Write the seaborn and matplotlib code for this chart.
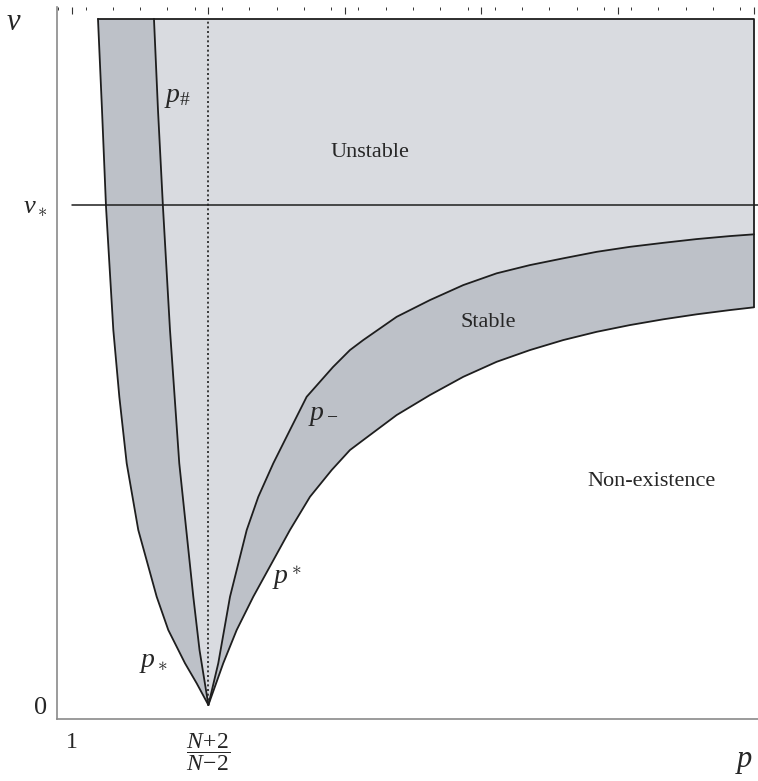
import numpy as np
import matplotlib
matplotlib.use('Agg')
import matplotlib.pyplot as plt
from matplotlib.ticker import FixedLocator, MultipleLocator
import seaborn as sns

# curves, (p, nu)
p_star_low_p = [3.0, 2.828, 2.657, 2.412, 2.242, 1.972, 1.802, 1.694, 1.606, 1.499, 1.44, 1.381]
p_star_low_nu = [0.0, 0.174, 0.334, 0.6, 0.866, 1.4, 1.934, 2.466, 3.0, 3.984, 4.76, 5.49]

p_sharp_p = [3.0, 2.87, 2.779, 2.573, 2.437, 2.334, 2.261, 2.202]
p_sharp_nu = [0.0, 0.44, 0.866, 1.934, 3.0, 3.984, 4.76, 5.49]

p_minus_p = [3.0, 3.145, 3.317, 3.562, 3.732, 3.952, 4.196, 4.441, 4.827, 5.076, 5.271, 5.761, 6.249,
             6.738, 7.227, 7.716, 8.204, 8.694, 9.182, 9.670, 10.160, 10.648, 11.0]
p_minus_nu = [0.0, 0.334, 0.866, 1.4, 1.666, 1.934, 2.2, 2.466, 2.704, 2.84, 2.92, 3.106, 3.24,
              3.36, 3.454, 3.52, 3.574, 3.626, 3.666, 3.698, 3.728, 3.752, 3.766]

p_up_p = [3.0, 3.218, 3.415, 3.658, 3.928, 4.196, 4.490, 4.808, 5.076, 5.271, 5.761, 6.249, 6.738,
          7.227, 7.716, 8.204, 8.694, 9.182, 9.670, 10.160, 10.648, 11.0]
p_up_nu = [0.0, 0.334, 0.6, 0.866, 1.134, 1.4, 1.666, 1.88, 2.04, 2.12, 2.32, 2.48, 2.626,
           2.746, 2.84, 2.92, 2.986, 3.04, 3.086, 3.126, 3.16, 3.182]

nu_top = 5.49
nu_crit = 4.0
p_crit = 3.0
p_max = 11.0

sns.set_style('white')
plt.rcParams['font.family'] = ['Liberation Serif', 'DejaVu Serif']
plt.rcParams['mathtext.fontset'] = 'custom'
plt.rcParams['mathtext.rm'] = 'Liberation Serif'
plt.rcParams['mathtext.it'] = 'Liberation Serif:italic'

fig = plt.figure(figsize=(7.58, 7.81), dpi=100)
ax = fig.add_axes([57/758, 62/781, 701/758, 712/781])

light = '#d9dbe0'
dark = '#bdc1c8'
edge = '#1e1e1e'

# light region: everything between p_* and p^*, capped at nu_top
poly_x = list(p_star_low_p) + [p_max, p_max] + list(p_up_p[::-1])
poly_y = list(p_star_low_nu) + [nu_top, p_up_nu[-1]] + list(p_up_nu[::-1])
ax.fill(poly_x, poly_y, color=light, lw=0)

# dark bands
ax.fill(list(p_star_low_p) + list(p_sharp_p[::-1]), list(p_star_low_nu) + list(p_sharp_nu[::-1]), color=dark, lw=0)
ax.fill(list(p_minus_p) + list(p_up_p[::-1]), list(p_minus_nu) + list(p_up_nu[::-1]), color=dark, lw=0)

for xs, ys in [(p_star_low_p, p_star_low_nu), (p_sharp_p, p_sharp_nu),
               (p_minus_p, p_minus_nu), (p_up_p, p_up_nu)]:
    sns.lineplot(x=xs, y=ys, sort=False, estimator=None, color=edge, lw=1.3, ax=ax)

# frame of the region
sns.lineplot(x=[p_star_low_p[-1], p_max, p_max], y=[nu_top, nu_top, p_up_nu[-1]],
             sort=False, estimator=None, color=edge, lw=1.3, ax=ax)

# critical lines
ax.plot([p_crit, p_crit], [0, nu_top], color=edge, lw=1.2, ls=(0, (1.2, 1.6)))
ax.plot([1.0, 11.1], [nu_crit, nu_crit], color=edge, lw=1.1)

ax.set_xlim(0.78, 11.06)
ax.set_ylim(-0.112, 5.585)

ax.xaxis.set_major_locator(FixedLocator([1, 3, 5, 7, 9, 11]))
ax.xaxis.set_minor_locator(MultipleLocator(0.4))
ax.yaxis.set_major_locator(FixedLocator([0, 1, 2, 3, 4, 5]))
ax.yaxis.set_minor_locator(MultipleLocator(0.2))
ax.set_xticklabels(['1', r'$\dfrac{N\!+\!2}{N\!-\!2}$', '', '', '', ''])
ax.set_yticklabels(['0', '', '', '', r'$\nu_\ast$', ''])

for s in ['top', 'right']:
    ax.spines[s].set_visible(False)
for s in ['left', 'bottom']:
    ax.spines[s].set_color('#8a8a8a')
    ax.spines[s].set_linewidth(1.2)

ax.tick_params(axis='x', which='major', direction='in', length=5, width=0.8, color='#333333',
               labelsize=17, pad=9, top=True)
ax.tick_params(axis='x', which='minor', direction='in', length=2.5, width=0.7, color='#333333', top=True)
ax.tick_params(axis='y', which='major', direction='in', length=5, width=0.8, color='#333333',
               labelsize=19, pad=7)
ax.tick_params(axis='y', which='minor', direction='in', length=2.5, width=0.7, color='#333333')
ax.set_xlabel('')
ax.set_ylabel('')

# region labels
ax.text(5.37, 4.42, 'Unstable', fontsize=16, ha='center', va='center')
ax.text(7.10, 3.06, 'Stable', fontsize=16, ha='center', va='center')
ax.text(9.50, 1.79, 'Non-existence', fontsize=16, ha='center', va='center')

ax.text(2.54, 4.86, r'$p_\#$', fontsize=20, ha='center', va='center')
ax.text(4.68, 2.32, r'$p_-$', fontsize=20, ha='center', va='center')
ax.text(4.15, 1.02, r'$p^\ast$', fontsize=20, ha='center', va='center')
ax.text(2.20, 0.34, r'$p_\ast$', fontsize=20, ha='center', va='center')

fig.text(14/758, 1 - 22/781, r'$\nu$', fontsize=22, ha='center', va='center')
fig.text(744/758, 1 - 761/781, r'$p$', fontsize=22, ha='center', va='center')

fig.savefig('out.png', dpi=100)
